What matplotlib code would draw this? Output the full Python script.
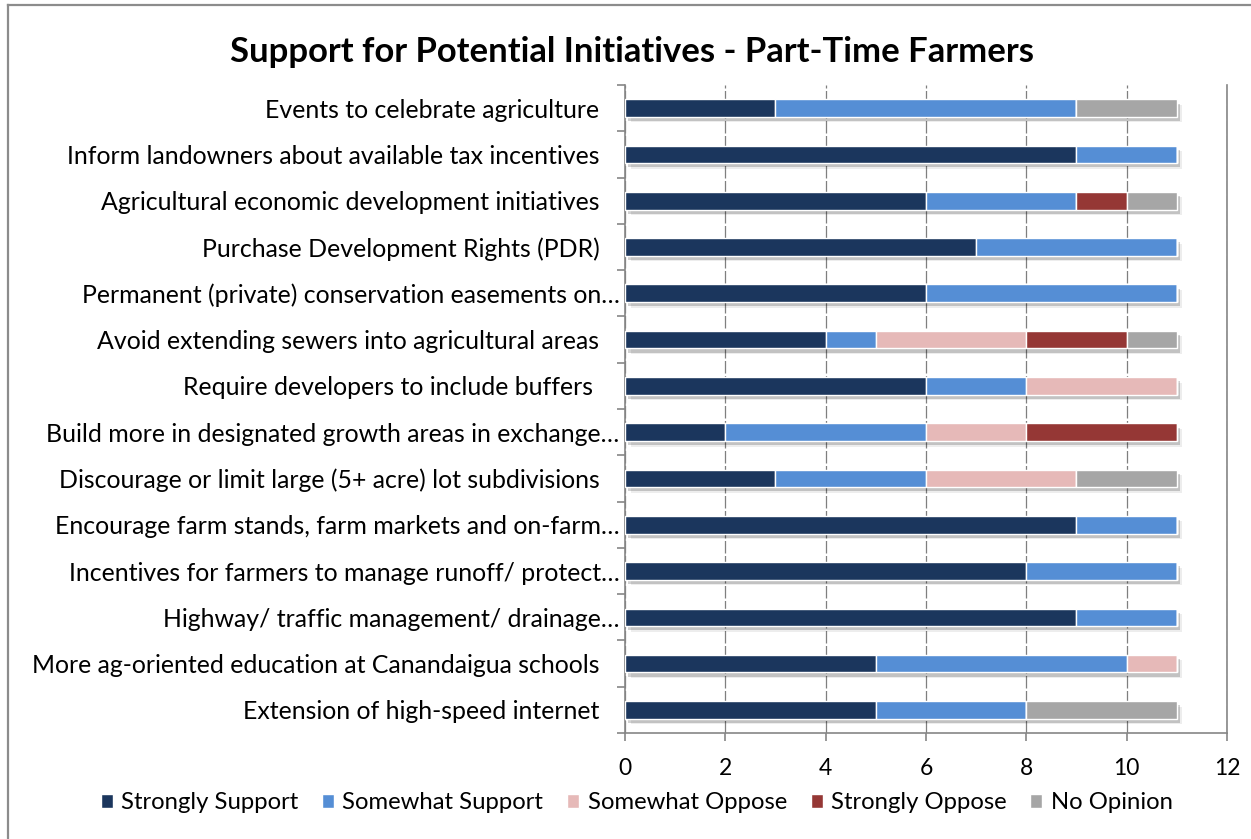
import matplotlib
matplotlib.use("Agg")
import matplotlib.pyplot as plt
import matplotlib.patheffects as pe
import matplotlib.transforms as mtransforms
from matplotlib.lines import Line2D
import numpy as np

plt.rcParams['font.family'] = ['Lato', 'DejaVu Sans']

# survey questions, top to bottom
initiatives = [
    "Events to celebrate agriculture",
    "Inform landowners about available tax incentives",
    "Agricultural economic development initiatives",
    "Purchase Development Rights (PDR)",
    "Permanent (private) conservation easements on…",
    "Avoid extending sewers into agricultural areas",
    "Require developers to include buffers ",
    "Build more in designated growth areas in exchange…",
    "Discourage or limit large (5+ acre) lot subdivisions",
    "Encourage farm stands, farm markets and on-farm…",
    "Incentives for farmers to manage runoff/ protect…",
    "Highway/ traffic management/ drainage…",
    "More ag-oriented education at Canandaigua schools",
    "Extension of high-speed internet",
]

strongly_support = [3, 9, 6, 7, 6, 4, 6, 2, 3, 9, 8, 9, 5, 5]
somewhat_support = [6, 2, 3, 4, 5, 1, 2, 4, 3, 2, 3, 2, 5, 3]
somewhat_oppose  = [0, 0, 0, 0, 0, 3, 3, 2, 3, 0, 0, 0, 1, 0]
strongly_oppose  = [0, 0, 1, 0, 0, 2, 0, 3, 0, 0, 0, 0, 0, 0]
no_opinion       = [2, 0, 1, 0, 0, 1, 0, 0, 2, 0, 0, 0, 0, 3]

series = [
    ("Strongly Support", strongly_support, "#1b365d"),
    ("Somewhat Support", somewhat_support, "#558ed5"),
    ("Somewhat Oppose", somewhat_oppose, "#e6b9b8"),
    ("Strongly Oppose", strongly_oppose, "#953735"),
    ("No Opinion", no_opinion, "#a6a6a6"),
]

fig = plt.figure(figsize=(12.51, 8.39), dpi=100)
ax = fig.add_axes([0.4996, 0.1263, 0.4812, 0.7724])

y = np.arange(len(initiatives))
bar_h = 0.38

# soft drop shadow behind each full bar
totals = np.sum([s[1] for s in series], axis=0)
ax.barh(y, totals, height=bar_h, color="none", zorder=2,
        path_effects=[pe.SimplePatchShadow(offset=(4, -4), shadow_rgbFace="#000000", alpha=0.07),
                      pe.SimplePatchShadow(offset=(2, -3), shadow_rgbFace="#000000", alpha=0.18)])

left = np.zeros(len(initiatives))
for name, vals, col in series:
    vals = np.array(vals)
    ax.barh(y, vals, left=left, height=bar_h, color=col, edgecolor="white",
            linewidth=1.0, label=name, zorder=3)
    left += vals

ax.set_xlim(0, 12)
ax.set_ylim(len(initiatives) - 0.5, -0.5)
ax.set_xticks(range(0, 13, 2))
ax.set_yticks(y)
ax.set_yticklabels(initiatives, fontsize=17.9)
ax.set_yticks(np.arange(-0.5, len(initiatives)), minor=True)
ax.tick_params(axis="y", which="major", length=0, pad=4)
ax.tick_params(axis="y", which="minor", length=6, color="#868686", width=1.2)
ax.tick_params(axis="x", labelsize=16.5, length=6, color="#868686", width=1.2, pad=12)

# full labels sit a little further from the axis than the cut-off ones
shift = mtransforms.ScaledTranslation(-0.2, 0, fig.dpi_scale_trans)
for lab in ax.get_yticklabels():
    if not lab.get_text().endswith("…"):
        lab.set_transform(lab.get_transform() + shift)

ax.grid(axis="x", color="#7f7f7f", linestyle=(0, (10, 2)), linewidth=0.9, zorder=0)
ax.set_axisbelow(True)
for side in ["left", "bottom", "right"]:
    ax.spines[side].set_color("#868686")
    ax.spines[side].set_linewidth(1.2)
ax.spines["top"].set_visible(False)

fig.text(0.505, 1 - 52 / 839, "Support for Potential Initiatives - Part-Time Farmers",
         ha="center", va="center", fontsize=24.9, fontweight="bold")

fig.legend(loc="center", bbox_to_anchor=(0.509, 0.043), ncol=5, frameon=False,
           fontsize=17.2, handlelength=0.5, handleheight=0.5, handletextpad=0.35,
           columnspacing=1.0)

# outer chart frame
fig.add_artist(Line2D([8 / 1251, 8 / 1251], [0, 1 - 5 / 839], color="#8c8c8c", lw=1.6))
fig.add_artist(Line2D([8 / 1251, 1], [1 - 5 / 839, 1 - 5 / 839], color="#8c8c8c", lw=1.6))

fig.savefig("out.png", dpi=100)
